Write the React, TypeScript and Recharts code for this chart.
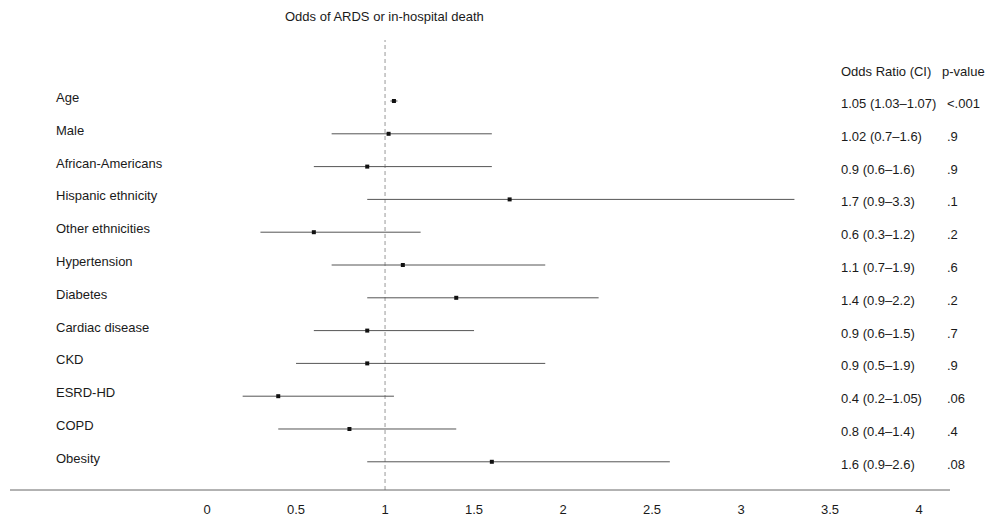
import {
  ScatterChart,
  Scatter,
  XAxis,
  YAxis,
  ErrorBar,
  ReferenceLine,
} from "recharts";

const labels = [
  "Age",
  "Male",
  "African-Americans",
  "Hispanic ethnicity",
  "Other ethnicities",
  "Hypertension",
  "Diabetes",
  "Cardiac disease",
  "CKD",
  "ESRD-HD",
  "COPD",
  "Obesity",
];
const oddsRatios = [1.05, 1.02, 0.9, 1.7, 0.6, 1.1, 1.4, 0.9, 0.9, 0.4, 0.8, 1.6];
const ciLow = [1.03, 0.7, 0.6, 0.9, 0.3, 0.7, 0.9, 0.6, 0.5, 0.2, 0.4, 0.9];
const ciHigh = [1.07, 1.6, 1.6, 3.3, 1.2, 1.9, 2.2, 1.5, 1.9, 1.05, 1.4, 2.6];
const pValues = ["<.001", ".9", ".9", ".1", ".2", ".6", ".2", ".7", ".9", ".06", ".4", ".08"];
const xTicks = [0, 0.5, 1, 1.5, 2, 2.5, 3, 3.5, 4];

const rows = labels.map((label, i) => ({
  row: i,
  label,
  or: oddsRatios[i],
  err: [oddsRatios[i] - ciLow[i], ciHigh[i] - oddsRatios[i]],
  ci: `${oddsRatios[i]} (${ciLow[i]}\u2013${ciHigh[i]})`,
  p: pValues[i],
}));

const FONT = "'Liberation Sans', Arial, sans-serif";

// draws the label on the left plus the OR/CI and p-value columns on the right
function RowTick({ y, payload }: any) {
  const r = rows[Math.round(payload.value)];
  if (!r) return <g />;
  return (
    <g fontFamily={FONT} fontSize={13} fill="#1a1a1a">
      <text x={56} y={y + 1}>{r.label}</text>
      <text x={841} y={y + 7}>{r.ci}</text>
      <text x={947} y={y + 7}>{r.p}</text>
    </g>
  );
}

const square = (props: any) => (
  <rect x={props.cx - 2} y={props.cy - 2} width={4} height={4} fill="#111" />
);

export default function App() {
  return (
    <div style={{ position: "absolute", left: 0, top: 0, width: 998, height: 518, fontFamily: FONT }}>
      <div style={{ position: "absolute", left: 285, top: 9, fontSize: 13, color: "#1a1a1a" }}>
        Odds of ARDS or in-hospital death
      </div>
      <div style={{ position: "absolute", left: 841, top: 64, fontSize: 13, color: "#1a1a1a" }}>
        Odds Ratio (CI)
      </div>
      <div style={{ position: "absolute", left: 942, top: 64, fontSize: 13, color: "#1a1a1a" }}>
        p-value
      </div>
      <ScatterChart width={998} height={518} margin={{ top: 40, right: 48, bottom: 0, left: 9 }}>
        <XAxis
          type="number"
          dataKey="or"
          domain={[-1.107, 4.174]}
          allowDataOverflow
          ticks={xTicks}
          interval={0}
          height={28}
          tickSize={0}
          tickMargin={15}
          axisLine={{ stroke: "#666" }}
          tick={{ fontSize: 13, fill: "#1a1a1a", fontFamily: FONT }}
        />
        <YAxis
          type="number"
          dataKey="row"
          domain={[-1.86, 11.86]}
          allowDataOverflow
          reversed
          width={1}
          ticks={rows.map((r) => r.row)}
          interval={0}
          axisLine={false}
          tickLine={false}
          tick={(p: any) => <RowTick {...p} />}
        />
        <ReferenceLine x={1} stroke="#999" strokeDasharray="4 3" />
        <Scatter data={rows} shape={square} isAnimationActive={false}>
          <ErrorBar dataKey="err" direction="x" width={0} stroke="#555" strokeWidth={1} />
        </Scatter>
      </ScatterChart>
    </div>
  );
}
